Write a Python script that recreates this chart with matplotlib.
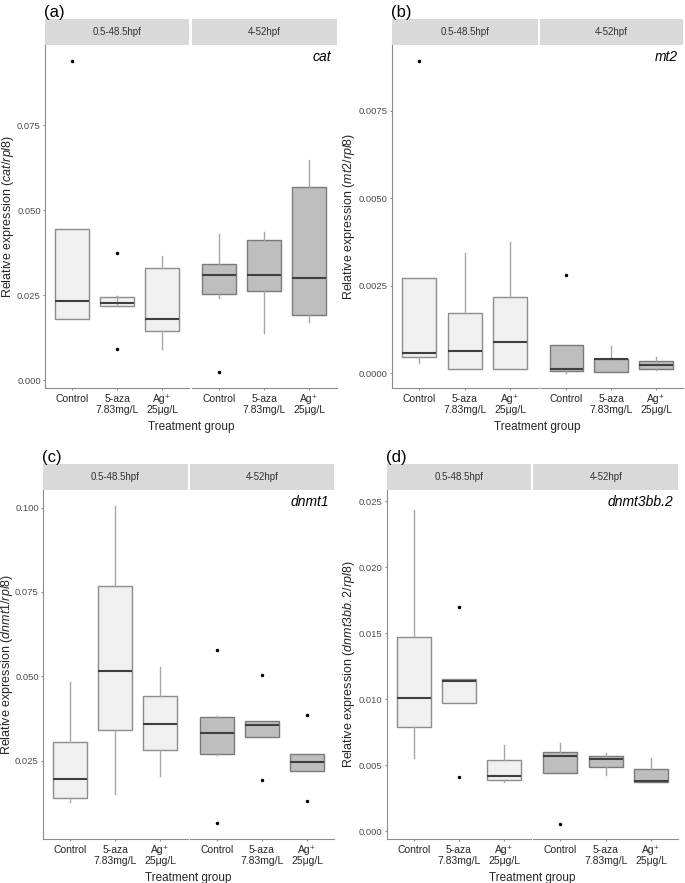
import matplotlib
matplotlib.use("Agg")
import matplotlib.pyplot as plt

plt.rcParams['font.family'] = ['Liberation Sans', 'DejaVu Sans']
plt.rcParams['mathtext.fontset'] = 'custom'
plt.rcParams['mathtext.rm'] = 'Liberation Sans'
plt.rcParams['mathtext.it'] = 'Liberation Sans:italic'

# --- data: [whisker low, Q1, median, Q3, whisker high] per treatment ---
treatments = ['Control', '5-aza\n7.83mg/L', 'Ag⁺\n25μg/L']
periods = ['0.5-48.5hpf', '4-52hpf']

cat_early = [[0.0180, 0.0180, 0.0233, 0.0446, 0.0446],
             [0.0249, 0.0218, 0.0226, 0.0246, 0.0249],
             [0.0091, 0.0144, 0.0181, 0.0331, 0.0366]]
cat_late = [[0.0243, 0.0253, 0.0310, 0.0341, 0.0429],
            [0.0138, 0.0262, 0.0310, 0.0411, 0.0437],
            [0.0170, 0.0191, 0.0302, 0.0567, 0.0648]]
cat_fliers_early = [[0.0938], [0.0374, 0.0093], []]
cat_fliers_late = [[0.00244], [], []]

mt2_early = [[0.00029, 0.00046, 0.00059, 0.00273, 0.00273],
             [0.00011, 0.00011, 0.00064, 0.00173, 0.00344],
             [0.00011, 0.00011, 0.00088, 0.00217, 0.00374]]
mt2_late = [[0.00002, 0.00007, 0.00013, 0.00082, 0.00082],
            [0.00005, 0.00005, 0.00042, 0.00042, 0.00079],
            [0.00008, 0.00012, 0.00025, 0.00034, 0.00046]]
mt2_fliers_early = [[0.00892], [], []]
mt2_fliers_late = [[0.00281], [], []]

dnmt1_early = [[0.0128, 0.0140, 0.0197, 0.0307, 0.0483],
               [0.0153, 0.0341, 0.0516, 0.0767, 0.1005],
               [0.0204, 0.0282, 0.0360, 0.0443, 0.0528]]
dnmt1_late = [[0.0268, 0.0271, 0.0331, 0.0381, 0.0384],
              [0.0321, 0.0321, 0.0357, 0.0367, 0.0367],
              [0.0220, 0.0220, 0.0248, 0.0269, 0.0269]]
dnmt1_fliers_early = [[], [], []]
dnmt1_fliers_late = [[0.0579, 0.0067], [0.0503, 0.0194], [0.0386, 0.0132]]

dnmt3_early = [[0.00554, 0.0079, 0.0101, 0.0147, 0.0243],
               [0.00974, 0.00974, 0.01135, 0.0115, 0.0115],
               [0.0037, 0.00388, 0.00416, 0.0054, 0.00653]]
dnmt3_late = [[0.00439, 0.00439, 0.00569, 0.00597, 0.00668],
              [0.00429, 0.00485, 0.00548, 0.00569, 0.00592],
              [0.00372, 0.00372, 0.00378, 0.0047, 0.00556]]
dnmt3_fliers_early = [[], [0.0170, 0.00411], []]
dnmt3_fliers_late = [[0.00056], [], []]

W, H = 685, 883


def rect(x0, x1, y0, y1):
    return [x0 / W, 1 - y1 / H, (x1 - x0) / W, (y1 - y0) / H]


panels = [
    dict(tag='(a)', gene='cat', data=(cat_early, cat_late),
         fliers=(cat_fliers_early, cat_fliers_late),
         yticks=[0, 0.025, 0.05, 0.075], fmt='{:.3f}', ylim=(-0.0023, 0.0986),
         xl=(45, 189.3), xr=(191.7, 336.5), strip=(19, 45), plot=(45, 388), ylab_x=8),
    dict(tag='(b)', gene='mt2', data=(mt2_early, mt2_late),
         fliers=(mt2_fliers_early, mt2_fliers_late),
         yticks=[0, 0.0025, 0.005, 0.0075], fmt='{:.4f}', ylim=(-0.00042, 0.00939),
         xl=(392, 537.7), xr=(539.5, 683), strip=(19, 44.5), plot=(44.5, 388), ylab_x=349),
    dict(tag='(c)', gene='dnmt1', data=(dnmt1_early, dnmt1_late),
         fliers=(dnmt1_fliers_early, dnmt1_fliers_late),
         yticks=[0.025, 0.05, 0.075, 0.1], fmt='{:.3f}', ylim=(0.0020, 0.1052),
         xl=(43, 187.5), xr=(189.7, 334.3), strip=(464, 490), plot=(490, 838.5), ylab_x=7),
    dict(tag='(d)', gene='dnmt3bb.2', data=(dnmt3_early, dnmt3_late),
         fliers=(dnmt3_fliers_early, dnmt3_fliers_late),
         yticks=[0, 0.005, 0.01, 0.015, 0.02, 0.025], fmt='{:.3f}', ylim=(-0.00055, 0.02585),
         xl=(386.7, 531), xr=(533.3, 678.3), strip=(464, 490), plot=(490, 838.5), ylab_x=349),
]

fills = ['#F0F0F0', '#BEBEBE']
edges = ['#8C8C8C', '#7A7A7A']

fig = plt.figure(figsize=(W / 100, H / 100), dpi=100)

for p in panels:
    for k, (xs, period) in enumerate(zip((p['xl'], p['xr']), periods)):
        ax = fig.add_axes(rect(xs[0], xs[1], p['plot'][0], p['plot'][1]))
        stats = []
        for vals, fl in zip(p['data'][k], p['fliers'][k]):
            lo, q1, med, q3, hi = vals
            stats.append(dict(whislo=lo, q1=q1, med=med, q3=q3, whishi=hi, fliers=fl))
        ax.bxp(stats, positions=[1, 2, 3], widths=0.75, patch_artist=True,
               showcaps=False,
               boxprops=dict(facecolor=fills[k], edgecolor=edges[k], linewidth=1.0),
               medianprops=dict(color='#3F3F3F', linewidth=1.5),
               whiskerprops=dict(color='#A6A6A6', linewidth=1.0),
               flierprops=dict(marker='o', markersize=1.5, markerfacecolor='black',
                               markeredgecolor='black'))
        ax.set_xlim(0.4, 3.6)
        ax.set_ylim(*p['ylim'])
        ax.set_xticks([1, 2, 3])
        ax.set_xticklabels(treatments, fontsize=7.5, color='#262626', linespacing=1.1)
        for s in ('top', 'right'):
            ax.spines[s].set_visible(False)
        ax.spines['bottom'].set_color('#8C8C8C')
        ax.spines['left'].set_color('#8C8C8C')
        ax.tick_params(axis='x', length=1.5, pad=3, color='#8C8C8C')
        if k == 0:
            ax.set_yticks(p['yticks'])
            ax.set_yticklabels([p['fmt'].format(v) for v in p['yticks']],
                               fontsize=6.8, color='#4D4D4D')
            ax.tick_params(axis='y', length=1.5, pad=1.5, color='#8C8C8C')
        else:
            ax.spines['left'].set_visible(False)
            ax.set_yticks([])
            ax.text(0.965, 0.965, p['gene'], transform=ax.transAxes, ha='right',
                    va='center', fontsize=10, style='italic', color='black')
        # facet strip
        sax = fig.add_axes(rect(xs[0], xs[1], p['strip'][0], p['strip'][1]))
        sax.set_facecolor('#D9D9D9')
        for s in sax.spines.values():
            s.set_visible(False)
        sax.set_xticks([])
        sax.set_yticks([])
        sax.text(0.5, 0.5, period, ha='center', va='center', fontsize=7,
                 color='#333333', transform=sax.transAxes)

    x0, x1 = p['xl'][0], p['xr'][1]
    y0, y1 = p['plot']
    fig.text((x0 + x1) / 2 / W, 1 - (y1 + 39) / H, 'Treatment group',
             ha='center', va='center', fontsize=8.5, color='#262626')
    fig.text(p['ylab_x'] / W, 1 - (y0 + y1) / 2 / H,
             'Relative expression ($\\mathit{' + p['gene'] + '/rpl8}$)',
             rotation=90, ha='center', va='center', fontsize=9, color='#262626')
    fig.text((x0 - 1) / W, 1 - (p['strip'][0] - 7) / H, p['tag'],
             ha='left', va='center', fontsize=12, color='black')

fig.savefig('out.png', dpi=100)
